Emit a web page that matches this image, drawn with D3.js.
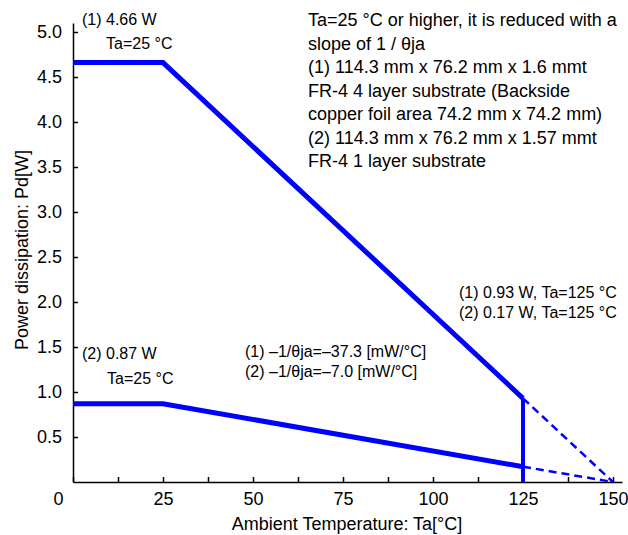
<!DOCTYPE html>
<html>
<head>
<meta charset="utf-8">
<script src="https://cdn.jsdelivr.net/npm/d3@7"></script>
<style>
  body { margin: 0; background: #fff; }
  svg { font-family: "Liberation Sans", Arial, sans-serif; }
  .axis path, .axis line { stroke: #000; stroke-width: 1.5; }
  .axis text { font-size: 18px; fill: #000; }
</style>
</head>
<body>
<svg width="628" height="535"></svg>
<script>
// derating curves: temperature [°C] vs power [W]
const board1 = [[0, 4.66], [25, 4.66], [125, 0.93]];
const board1Tail = [[125, 0.93], [150, 0]];
const board2 = [[0, 0.87], [25, 0.87], [125, 0.17]];
const board2Tail = [[125, 0.17], [150, 0]];
const cutoff = [[125, 0.93], [125, 0]];

const xTicks = [0, 12.5, 25, 37.5, 50, 62.5, 75, 87.5, 100, 112.5, 125, 137.5, 150];
const yTicks = [0.5, 1.0, 1.5, 2.0, 2.5, 3.0, 3.5, 4.0, 4.5, 5.0];

const noteLines = [
  'Ta=25 °C or higher, it is reduced with a',
  'slope of 1 / θja',
  '(1) 114.3 mm x 76.2 mm x 1.6 mmt',
  'FR-4 4 layer substrate (Backside',
  'copper foil area 74.2 mm x 74.2 mm)',
  '(2) 114.3 mm x 76.2 mm x 1.57 mmt',
  'FR-4 1 layer substrate'
];
const endLabels = ['(1) 0.93 W, Ta=125 °C', '(2) 0.17 W, Ta=125 °C'];
const slopeLabels = ['(1) \u20131/θja=\u201337.3 [mW/°C]', '(2) \u20131/θja=\u20137.0 [mW/°C]'];

const svg = d3.select('svg');
const x = d3.scaleLinear().domain([0, 152.5]).range([73, 622]);
const y = d3.scaleLinear().domain([0, 5.1]).range([482, 23]);

const line = d3.line().x(d => x(d[0])).y(d => y(d[1]));

// axes, ticks pointing inward
svg.append('g')
  .attr('class', 'axis')
  .attr('transform', `translate(0, ${y(0)})`)
  .call(d3.axisTop(x).tickValues(xTicks).tickSize(5).tickSizeOuter(0)
    .tickFormat(d => d % 25 === 0 ? d : ''))
  .call(g => g.selectAll('text').attr('y', 23).attr('dy', 0))
  .call(g => g.selectAll('.tick').filter(d => d === 0).select('text').attr('x', -15));

svg.append('g')
  .attr('class', 'axis')
  .attr('transform', `translate(${x(0)}, 0)`)
  .call(d3.axisRight(y).tickValues(yTicks).tickSize(5).tickSizeOuter(0)
    .tickFormat(d3.format('.1f')))
  .call(g => g.selectAll('text').attr('x', -11).attr('text-anchor', 'end'));

// curves
const blue = '#0000ff';
[board1, board2].forEach(d => {
  svg.append('path').attr('d', line(d)).attr('fill', 'none')
    .attr('stroke', blue).attr('stroke-width', 5);
});
svg.append('path').attr('d', line(cutoff)).attr('fill', 'none')
  .attr('stroke', blue).attr('stroke-width', 4);
[board1Tail, board2Tail].forEach(d => {
  svg.append('path').attr('d', line(d)).attr('fill', 'none')
    .attr('stroke', blue).attr('stroke-width', 2.5).attr('stroke-dasharray', '8,5');
});

// annotations
const txt = (s, tx, ty, size) => svg.append('text').attr('x', tx).attr('y', ty)
  .attr('font-size', size || 16).text(s);

txt('(1) 4.66 W', 82, 25);
txt('Ta=25 °C', 106, 49);
txt('(2) 0.87 W', 82, 359);
txt('Ta=25 °C', 107, 384);

noteLines.forEach((s, i) => txt(s, 308, 26 + i * 23.5, 18));
endLabels.forEach((s, i) => txt(s, 459, 298 + i * 19.5));
slopeLabels.forEach((s, i) => txt(s, 245, 357 + i * 19.5));

// axis titles
svg.append('text').attr('x', 347).attr('y', 530).attr('text-anchor', 'middle')
  .attr('font-size', 18).text('Ambient Temperature: Ta[°C]');
svg.append('text').attr('transform', 'translate(28, 250) rotate(-90)')
  .attr('text-anchor', 'middle').attr('font-size', 18).text('Power dissipation: Pd[W]');
</script>
</body>
</html>
